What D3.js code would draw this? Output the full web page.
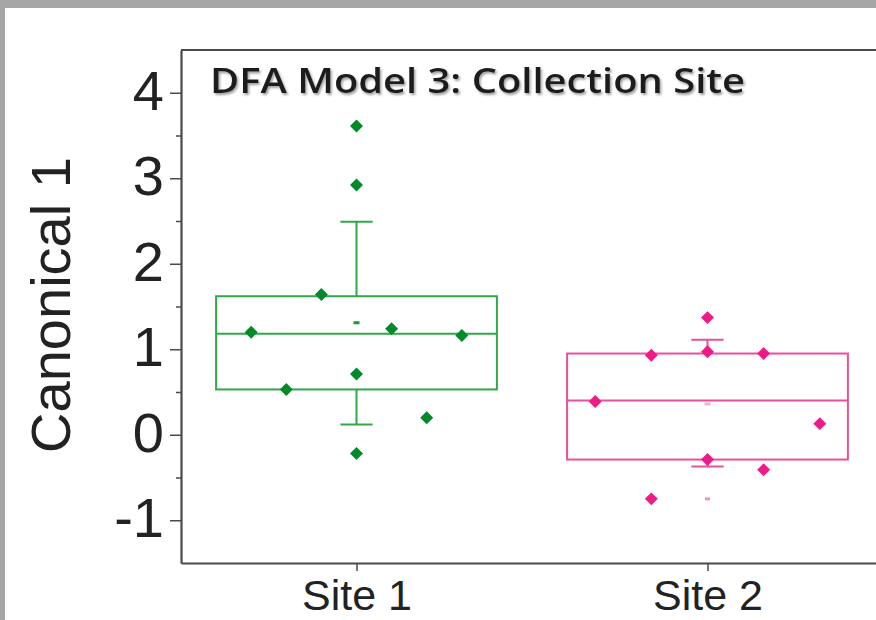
<!DOCTYPE html>
<html>
<head>
<meta charset="utf-8">
<script src="https://cdn.jsdelivr.net/npm/d3@7"></script>
<style>
  html, body { margin: 0; padding: 0; background: #fff; }
  svg { display: block; }
</style>
</head>
<body>
<div id="chart"></div>
<script>
var W = 876, H = 620;

// categories and values
var categories = ["Site 1", "Site 2"];
var site1Values = [3.61, 2.92, 1.64, 1.20, 1.24, 1.16, 0.71, 0.53, 0.20, -0.22];
var site1Jitter = [0, 0, -0.10, -0.30, 0.10, 0.30, 0, -0.20, 0.20, 0];
var site2Values = [1.37, 0.93, 0.97, 0.95, 0.39, 0.13, -0.29, -0.41, -0.75];
var site2Jitter = [0, -0.16, 0, 0.16, -0.32, 0.32, 0, 0.16, -0.16];

// box statistics per category
var q1 = [0.53, -0.29];
var median = [1.18, 0.40];
var q3 = [1.62, 0.95];
var whiskerLow = [0.12, -0.37];
var whiskerHigh = [2.49, 1.11];
var means = [1.31, 0.36];
var minValues = [-0.22, -0.75];

var yTicks = [-1, 0, 1, 2, 3, 4];
var yMinorTicks = [-0.5, 0.5, 1.5, 2.5, 3.5];

var boxColors = ["#2fa84a", "#ea4f9c"];
var dotColors = ["#008a2a", "#ee1a86"];

var svg = d3.select("#chart").append("svg")
  .attr("width", W)
  .attr("height", H);

// gray frame around the picture
svg.append("rect").attr("x", 0).attr("y", 0).attr("width", W).attr("height", H).attr("fill", "#a6a6a6");
svg.append("rect").attr("x", 5).attr("y", 8).attr("width", W - 5).attr("height", H - 8).attr("fill", "#fff");

var defs = svg.append("defs");
var shadow = defs.append("filter").attr("id", "shadow")
  .attr("x", "-5%").attr("y", "-20%").attr("width", "110%").attr("height", "150%");
shadow.append("feDropShadow")
  .attr("dx", 1.5).attr("dy", 2)
  .attr("stdDeviation", 1.3)
  .attr("flood-color", "#777")
  .attr("flood-opacity", 0.7);

var x = d3.scaleLinear().domain([0.5, 2.5]).range([181, 883]);
var y = d3.scaleLinear().domain([-1.5, 4.5]).range([563, 50]);

var axisColor = "#4a4a4a";

// top frame line
svg.append("line").attr("x1", x(0.5)).attr("x2", W).attr("y1", y(4.5)).attr("y2", y(4.5))
  .attr("stroke", axisColor).attr("stroke-width", 2.2);

// y axis
var yAxis = svg.append("g")
  .attr("transform", "translate(" + x(0.5) + ",0)")
  .call(d3.axisLeft(y).tickValues(yTicks).tickSize(11).tickSizeOuter(0).tickPadding(6)
    .tickFormat(function(d) { return String(d); }));
yAxis.select(".domain").attr("stroke", axisColor).attr("stroke-width", 2.2);
yAxis.selectAll(".tick line").attr("stroke", axisColor).attr("stroke-width", 1.5);
yAxis.selectAll(".tick text")
  .attr("font-family", "'Liberation Sans', Arial, sans-serif")
  .attr("font-size", 56)
  .attr("fill", "#222")
  .attr("dy", "0.29em");

var yMinor = svg.append("g")
  .attr("transform", "translate(" + x(0.5) + ",0)")
  .call(d3.axisLeft(y).tickValues(yMinorTicks).tickSize(5).tickFormat(""));
yMinor.select(".domain").remove();
yMinor.selectAll(".tick line").attr("stroke", axisColor).attr("stroke-width", 1.5);

// x axis
var xAxis = svg.append("g")
  .attr("transform", "translate(0," + y(-1.5) + ")")
  .call(d3.axisBottom(x).tickValues([1, 2]).tickSize(8).tickSizeOuter(0).tickPadding(8)
    .tickFormat(function(d) { return categories[d - 1]; }));
xAxis.select(".domain").attr("stroke", axisColor).attr("stroke-width", 2.2);
xAxis.selectAll(".tick line").attr("stroke", axisColor).attr("stroke-width", 1.5);
xAxis.selectAll(".tick text")
  .attr("font-family", "'Liberation Sans', Arial, sans-serif")
  .attr("font-size", 43)
  .attr("fill", "#222")
  .attr("dy", "0.71em");

// axis title
svg.append("text")
  .attr("transform", "translate(70," + 305 + ") rotate(-90)")
  .attr("text-anchor", "middle")
  .attr("font-family", "'Liberation Sans', Arial, sans-serif")
  .attr("font-size", 56)
  .attr("fill", "#222")
  .text("Canonical 1");

// title inside the frame
svg.append("text")
  .attr("x", 210)
  .attr("y", 93)
  .attr("font-family", "'Open Sans', 'Noto Sans', sans-serif")
  .attr("font-size", 35)
  .attr("font-weight", 600)
  .attr("textLength", 535)
  .attr("lengthAdjust", "spacingAndGlyphs")
  .attr("fill", "#1a1a1a")
  .attr("filter", "url(#shadow)")
  .text("DFA Model 3: Collection Site");

// boxes
var boxHalf = 0.4, capHalf = 0.046;
var boxes = svg.append("g");
categories.forEach(function(c, i) {
  var cx = i + 1;
  var g = boxes.append("g")
    .attr("stroke", boxColors[i])
    .attr("stroke-width", 2)
    .attr("fill", "none");
  g.append("line").attr("x1", x(cx)).attr("x2", x(cx))
    .attr("y1", y(q3[i])).attr("y2", y(whiskerHigh[i]));
  g.append("line").attr("x1", x(cx)).attr("x2", x(cx))
    .attr("y1", y(q1[i])).attr("y2", y(whiskerLow[i]));
  g.append("line").attr("x1", x(cx - capHalf)).attr("x2", x(cx + capHalf))
    .attr("y1", y(whiskerHigh[i])).attr("y2", y(whiskerHigh[i]));
  g.append("line").attr("x1", x(cx - capHalf)).attr("x2", x(cx + capHalf))
    .attr("y1", y(whiskerLow[i])).attr("y2", y(whiskerLow[i]));
  g.append("rect")
    .attr("x", x(cx - boxHalf)).attr("y", y(q3[i]))
    .attr("width", x(cx + boxHalf) - x(cx - boxHalf))
    .attr("height", y(q1[i]) - y(q3[i]));
  g.append("line").attr("x1", x(cx - boxHalf)).attr("x2", x(cx + boxHalf))
    .attr("y1", y(median[i])).attr("y2", y(median[i]));
});

// mean markers
boxes.selectAll("rect.mean")
  .data(means)
  .enter()
  .append("rect")
  .attr("class", "mean")
  .attr("x", function(d, i) { return x(i + 1) - 3; })
  .attr("y", function(d) { return y(d) - 1.5; })
  .attr("width", 6)
  .attr("height", 3)
  .attr("fill", function(d, i) { return dotColors[i]; })
  .attr("opacity", function(d, i) { return i === 0 ? 0.9 : 0.35; });

// min markers (faint, at the box centre)
boxes.selectAll("rect.min")
  .data(minValues)
  .enter()
  .append("rect")
  .attr("class", "min")
  .attr("x", function(d, i) { return x(i + 1) - 2.5; })
  .attr("y", function(d) { return y(d) - 1.5; })
  .attr("width", 5)
  .attr("height", 3)
  .attr("fill", function(d, i) { return dotColors[i]; })
  .attr("opacity", 0.5);

// data points
var points = [];
site1Values.forEach(function(v, j) { points.push({ cat: 0, value: v, jitter: site1Jitter[j] }); });
site2Values.forEach(function(v, j) { points.push({ cat: 1, value: v, jitter: site2Jitter[j] }); });

var diamond = d3.symbol().type(d3.symbolSquare).size(84);
svg.append("g").selectAll("path")
  .data(points)
  .enter()
  .append("path")
  .attr("d", diamond)
  .attr("transform", function(d) {
    return "translate(" + x(d.cat + 1 + d.jitter) + "," + y(d.value) + ") rotate(45)";
  })
  .attr("fill", function(d) { return dotColors[d.cat]; });
</script>
</body>
</html>
